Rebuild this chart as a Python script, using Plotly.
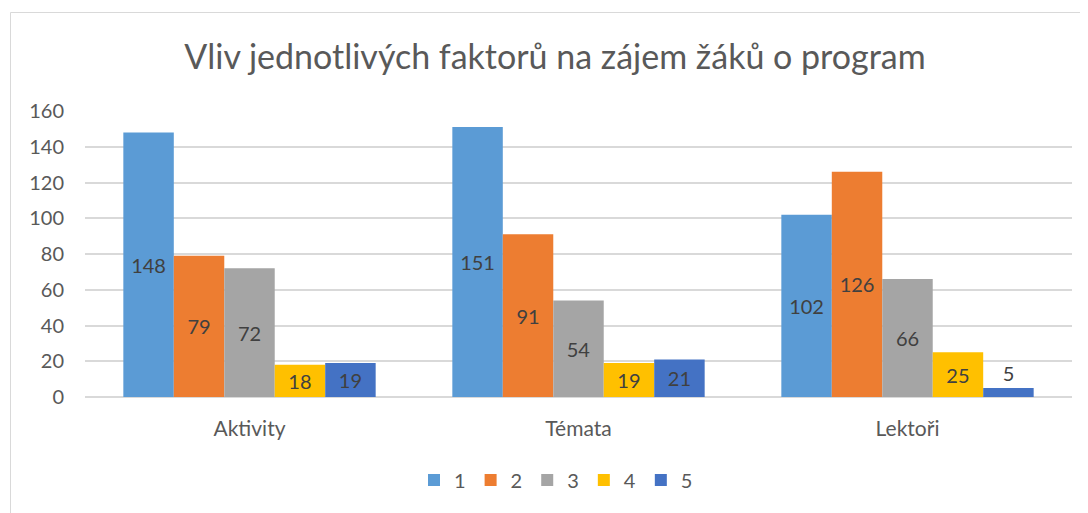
import plotly.graph_objects as go

categories = ["Aktivity", "Témata", "Lektoři"]
series_names = ["1", "2", "3", "4", "5"]
s1 = [148, 151, 102]
s2 = [79, 91, 126]
s3 = [72, 54, 66]
s4 = [18, 19, 25]
s5 = [19, 21, 5]
series_values = [s1, s2, s3, s4, s5]
colors = ["#5B9BD5", "#ED7D31", "#A5A5A5", "#FFC000", "#4472C4"]
y_ticks = [0, 20, 40, 60, 80, 100, 120, 140, 160]

FONT = "Lato"
OFF = 8  # default body margin of the page
fig = go.Figure()
for name, vals, col in zip(series_names, series_values, colors):
    fig.add_trace(go.Bar(
        name=name, x=categories, y=vals, marker_color=col,
        marker_line_width=0,
        text=[str(v) for v in vals], textposition="auto",
        insidetextanchor="middle", constraintext="none",
        textfont=dict(family=FONT, size=20, color="#404040"),
        outsidetextfont=dict(family=FONT, size=20, color="#404040"),
        insidetextfont=dict(family=FONT, size=20, color="#404040"),
        cliponaxis=False,
    ))

W, H = 1088 - OFF, 513 - OFF
ml, mr, mt, mb = 85 - OFF, 16, 111 - OFF, 116
pw, ph = W - ml - mr, H - mt - mb

def px(x):
    return (x - OFF - ml) / pw

def py(y):
    return (H - mb - (y - OFF)) / ph

fig.update_layout(
    width=W, height=H,
    margin=dict(l=ml, r=mr, t=mt, b=mb),
    paper_bgcolor="white", plot_bgcolor="white",
    barmode="group", bargap=0.233, bargroupgap=0,
    title=dict(text="Vliv jednotlivých faktorů na zájem žáků o program",
               x=(555 - OFF) / W, xref="container", xanchor="center",
               y=1 - (57 - OFF) / H, yref="container", yanchor="middle",
               font=dict(family=FONT, size=34, color="#595959")),
    font=dict(family=FONT, color="#595959"),
    showlegend=True,
    legend=dict(orientation="h", x=px(556), xanchor="center", y=py(480), yanchor="middle",
                font=dict(family=FONT, size=20, color="#595959"),
                itemwidth=30, traceorder="normal"),
    xaxis=dict(showgrid=False, showline=False, ticks="", ticklabelstandoff=17,
               tickfont=dict(family=FONT, size=21, color="#595959")),
    yaxis=dict(range=[0, 160], tickvals=y_ticks, showgrid=True, gridcolor="#D9D9D9",
               gridwidth=1.5, zeroline=True, zerolinecolor="#D9D9D9", zerolinewidth=1.5,
               showline=False, ticks="", ticklabelstandoff=20,
               tickfont=dict(family=FONT, size=20, color="#595959")),
    shapes=[dict(type="rect", xref="paper", yref="paper",
                 x0=px(10.5), x1=px(1100), y0=py(12.5), y1=py(530),
                 line=dict(color="#D9D9D9", width=1), fillcolor="rgba(0,0,0,0)", layer="below")],
)
fig.write_html("out.html")
